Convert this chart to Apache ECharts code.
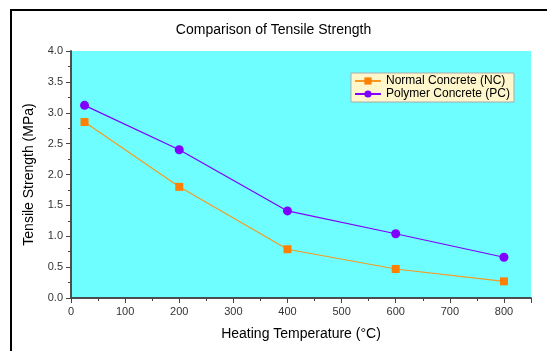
<!DOCTYPE html>
<html><head><meta charset="utf-8">
<script src="https://cdn.jsdelivr.net/npm/echarts@6/dist/echarts.min.js"></script>
<style>html,body{margin:0;padding:0;background:#fff}#c{width:547px;height:351px}</style>
</head><body><div id="c"></div>
<script>
const temps = [25, 200, 400, 600, 800];
const ncValues = [2.85, 1.80, 0.79, 0.47, 0.27];
const pcValues = [3.12, 2.40, 1.41, 1.04, 0.66];
const seriesNames = ['Normal Concrete (NC)', 'Polymer Concrete (PC)'];
const titleText = 'Comparison of Tensile Strength';
const xName = 'Heating Temperature (°C)';
const yName = 'Tensile Strength (MPa)';

const font = 'Liberation Sans, Arial, sans-serif';
const axisColor = '#444';
const chart = echarts.init(document.getElementById('c'), null, {renderer: 'canvas'});
const hidden = {show: false};
chart.setOption({
  animation: false,
  backgroundColor: '#fff',
  title: {text: titleText, left: 'center', top: 18, textStyle: {fontFamily: font, fontSize: 14, fontWeight: 'normal', color: '#000'}},
  graphic: [{type: 'rect', shape: {x: 11, y: 10, width: 700, height: 500}, style: {fill: 'none', stroke: '#000', lineWidth: 2}, silent: true, z: 100}],
  grid: {left: 71, right: 16, top: 51, bottom: 53, show: true, backgroundColor: '#6ffeff', borderWidth: 0},
  legend: {
    right: 33, top: 73, orient: 'vertical', itemGap: 1, itemWidth: 26, itemHeight: 9,
    padding: [2, 4, 2, 3],
    backgroundColor: '#fff6cc', borderColor: '#aaaaaa', borderWidth: 1,
    textStyle: {fontFamily: font, fontSize: 12, color: '#000'},
    data: seriesNames
  },
  xAxis: [{
    type: 'value', min: 0, max: 850, interval: 100,
    name: xName, nameLocation: 'middle', nameGap: 29,
    nameTextStyle: {fontFamily: font, fontSize: 14, color: '#000'},
    axisLine: {show: true, lineStyle: {color: axisColor, width: 1.5}},
    axisTick: {show: true, inside: false, length: 5, lineStyle: {color: axisColor}},
    minorTick: {show: true, splitNumber: 2, length: 3, lineStyle: {color: axisColor}},
    axisLabel: {fontFamily: font, fontSize: 11, color: '#333', margin: 8, showMaxLabel: false},
    splitLine: hidden
  }, {
    type: 'value', min: 0, max: 850, interval: 100, position: 'top',
    axisLine: {show: true, lineStyle: {color: axisColor, width: 1.5}},
    axisTick: {show: true, inside: true, length: 5, lineStyle: {color: axisColor}},
    minorTick: {show: true, splitNumber: 2, length: 3, lineStyle: {color: axisColor}},
    axisLabel: hidden, splitLine: hidden
  }],
  yAxis: [{
    type: 'value', min: 0, max: 4, interval: 0.5,
    name: yName, nameLocation: 'middle', nameGap: 35,
    nameTextStyle: {fontFamily: font, fontSize: 14, color: '#000'},
    axisLine: {show: true, lineStyle: {color: axisColor, width: 1.5}},
    axisTick: {show: true, inside: false, length: 5, lineStyle: {color: axisColor}},
    minorTick: {show: true, splitNumber: 2, length: 3, lineStyle: {color: axisColor}},
    axisLabel: {fontFamily: font, fontSize: 11, color: '#333', margin: 8, formatter: v => v.toFixed(1)},
    splitLine: hidden
  }, {
    type: 'value', min: 0, max: 4, interval: 0.5, position: 'right',
    axisLine: {show: true, lineStyle: {color: axisColor, width: 1.5}},
    axisTick: {show: true, inside: true, length: 5, lineStyle: {color: axisColor}},
    minorTick: {show: true, splitNumber: 2, length: 3, lineStyle: {color: axisColor}},
    axisLabel: hidden, splitLine: hidden
  }],
  series: [{
    name: seriesNames[0], type: 'line', symbol: 'rect', symbolSize: 8,
    data: temps.map((t, i) => [t, ncValues[i]]),
    itemStyle: {color: '#ff8000'}, lineStyle: {color: '#f59a23', width: 1.2}
  }, {
    name: seriesNames[1], type: 'line', symbol: 'circle', symbolSize: 9,
    data: temps.map((t, i) => [t, pcValues[i]]),
    itemStyle: {color: '#8000ff'}, lineStyle: {color: '#8000ff', width: 1.2}
  }]
});
</script></body></html>
